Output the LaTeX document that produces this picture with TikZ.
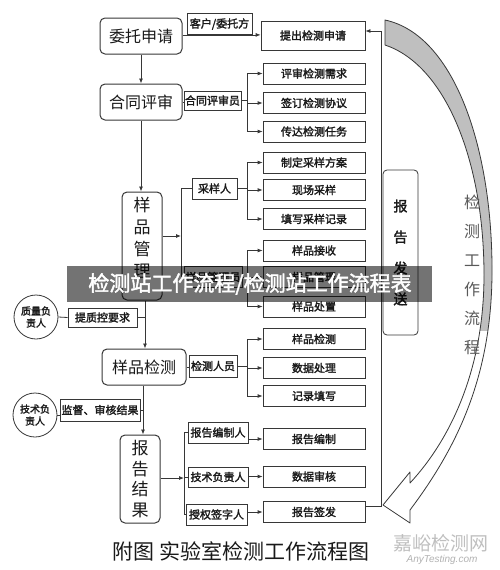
\documentclass[tikz,border=0pt]{standalone}
\usepackage{fontspec}
\setmainfont{Noto Sans CJK SC}[AutoFakeBold=2]
\newfontfamily\latf{Liberation Sans}
\usetikzlibrary{arrows.meta}
\definecolor{linec}{RGB}{55,55,55}
\definecolor{txtc}{RGB}{25,25,25}
\tikzset{
  mainbox/.style={draw=linec, line width=1pt, rounded corners=5pt, inner sep=1pt, text=txtc, font=\fontsize{16}{16}\selectfont},
  vbox/.style={mainbox, align=center},
  lblbox/.style={draw=linec, line width=0.8pt, inner sep=1pt, text=txtc, font=\fontsize{11}{11}\selectfont\bfseries},
  itembox/.style={draw=linec, line width=0.8pt, minimum width=102pt, minimum height=21pt, inner sep=1pt, text=txtc, font=\fontsize{11}{11}\selectfont\bfseries},
  circ/.style={draw=linec, line width=0.8pt, circle, minimum size=44pt, inner sep=0pt, align=center, text=txtc, font=\fontsize{10}{12}\selectfont\bfseries},
  conn/.style={draw=linec, line width=0.8pt},
  arr/.style={conn, -{Latex[length=5pt,width=4pt]}}
}
\begin{document}
\begin{tikzpicture}[x=1pt,y=-1pt]
\useasboundingbox[fill=white] (0,0) rectangle (500,570);

% big curved arrow
\def\arrowpath{(385,20) .. controls (455,35) and (493,150) .. (492,275)
  .. controls (491,380) and (455,450) .. (410,510)
  -- (410,523) -- (383,505) -- (410,472) -- (410,483)
  .. controls (450,440) and (484,370) .. (484,275)
  .. controls (484,160) and (445,65) .. (385,45) -- cycle}
\fill[white] \arrowpath;
\begin{scope}
  \clip (380,0) rectangle (500,330);
  \fill[gray!50] \arrowpath;
\end{scope}
\draw[linec, line width=0.8pt, line join=round] \arrowpath;
\node[font=\fontsize{16}{29}\selectfont, text=black!65, align=center, inner sep=0pt] (wf) at (472,274.5) {检\\测\\工\\作\\流\\程};

% main boxes
\node[mainbox, minimum width=82pt, minimum height=36pt] (wt) at (141,36) {委托申请};
\node[mainbox, minimum width=82pt, minimum height=36pt] (ht) at (141,102) {合同评审};
\node[vbox, minimum width=40pt, minimum height=108pt] (yp) at (142,246) {};
\node[font=\fontsize{17}{22}\selectfont, text=txtc, align=center, inner sep=0pt] (ypt) at (142,238) {样\\品\\管\\理};
\node[mainbox, minimum width=84pt, minimum height=36pt] (jc) at (144,367) {样品检测};
\node[vbox, minimum width=40pt, minimum height=88pt, font=\fontsize{17}{20.5}\selectfont] (bg) at (140,479) {报\\告\\结\\果};
\node[vbox, minimum width=35pt, minimum height=165pt, line width=0.8pt, rounded corners=4pt, font=\fontsize{14}{31}\selectfont\bfseries] (fs) at (400.5,252.5) {报\\告\\发\\送};

% label boxes
\node[lblbox, minimum width=65pt, minimum height=21pt] (kh) at (219.5,24) {客户/委托方};
\node[lblbox, minimum width=57pt, minimum height=19pt] (hr) at (212.5,100.5) {合同评审员};
\node[lblbox, minimum width=45pt, minimum height=21pt] (cy) at (214.5,188.5) {采样人};
\node[lblbox, minimum width=58pt, minimum height=21pt] (gly) at (213,277) {样品管理员};
\node[lblbox, minimum width=48pt, minimum height=22pt] (jr) at (213,366) {检测人员};
\node[lblbox, minimum width=60pt, minimum height=21pt] (bz) at (218,432.5) {报告编制人};
\node[lblbox, minimum width=60pt, minimum height=20pt] (jsr) at (218,477) {技术负责人};
\node[lblbox, minimum width=61pt, minimum height=21pt] (sq) at (216.5,514.5) {授权签字人};
\node[lblbox, minimum width=69pt, minimum height=19pt] (zk) at (102.5,317.5) {提质控要求};
\node[lblbox, minimum width=80pt, minimum height=22pt] (jd) at (100,410) {监督、审核结果};

% circles
\node[circ] (zl) at (36,317) {质量负\\责人};
\node[circ] (jf) at (35,415) {技术负\\责人};

% item boxes
\node[itembox, minimum width=104pt, minimum height=29pt] (req) at (313,35.5) {提出检测申请};
\node[itembox] (i1) at (314,73.5) {评审检测需求};
\node[itembox] (i2) at (314,103) {签订检测协议};
\node[itembox] (i3) at (314,131.5) {传达检测任务};
\node[itembox] (s1) at (314,162.5) {制定采样方案};
\node[itembox] (s2) at (314,190) {现场采样};
\node[itembox] (s3) at (314,219) {填写采样记录};
\node[itembox] (m1) at (314,250.5) {样品接收};
\node[itembox] (m2) at (314,277) {样品管理};
\node[itembox] (m3) at (314,306.5) {样品处置};
\node[itembox] (t1) at (314,339) {样品检测};
\node[itembox] (t2) at (314,368) {数据处理};
\node[itembox] (t3) at (314,396) {记录填写};
\node[itembox] (r1) at (314,439) {报告编制};
\node[itembox] (r2) at (314,476.5) {数据审核};
\node[itembox] (r3) at (314,512) {报告签发};

% connectors: application
\draw[arr] (wt.east |- kh.south) -- (req.west |- kh.south);
\draw[arr] (wt.south) -- (ht.north);
% contract review
\draw[conn] (ht.east) -- (ht.east -| hr.west);
\coordinate (b1) at (247,101);
\draw[conn] (hr.east) -- (hr.east -| b1);
\draw[conn] (b1 |- i1) -- (b1 |- i3);
\foreach \n in {i1,i2,i3} \draw[arr] (b1 |- \n) -- (\n.west);
\draw[arr] (ht.south) -- (ht.south |- yp.north);
% sample management
\coordinate (b2) at (181,236);
\draw[arr] (yp.east |- b2) -- (b2);
\draw[conn] (cy.west) -- (cy.west -| b2) -- (gly.west -| b2) -- (gly.west);
\coordinate (b3) at (247,188);
\draw[conn] (cy.east) -- (cy.east -| b3);
\draw[conn] (b3 |- s1) -- (b3 |- s3);
\foreach \n in {s1,s2,s3} \draw[arr] (b3 |- \n) -- (\n.west);
\draw[conn] (gly.east) -- (gly.east -| b3);
\draw[conn] (b3 |- m1) -- (b3 |- m3);
\foreach \n in {m1,m2,m3} \draw[arr] (b3 |- \n) -- (\n.west);
% quality
\coordinate (b4) at (145,317.5);
\draw[arr] (yp.south -| b4) -- (jc.north -| b4);
\draw[conn] (zl.east) -- (zk.west);
\draw[conn] (zk.east) -- (b4);
% testing
\draw[conn] (jc.east) -- (jc.east -| jr.west);
\coordinate (b5) at (247,366);
\draw[conn] (jr.east) -- (jr.east -| b5);
\draw[conn] (b5 |- t1) -- (b5 |- t3);
\foreach \n in {t1,t2,t3} \draw[arr] (b5 |- \n) -- (\n.west);
% report
\coordinate (b6) at (143,410);
\draw[arr] (jc.south -| b6) -- (bg.north -| b6);
\draw[conn] (jf.east) -- (jf.east -| jd.west);
\draw[conn] (jd.east) -- (jd.east -| b6);
\coordinate (b7) at (184,478);
\draw[arr] (bg.east |- b7) -- (b7);
\draw[conn] (b7 |- bz) -- (b7 |- sq);
\foreach \n in {bz,jsr,sq} \draw[conn] (b7 |- \n) -- (\n.west);
\draw[arr] (bz.east |- r1) -- (r1.west);
\draw[arr] (jsr.east |- r2) -- (r2.west);
\draw[arr] (sq.east |- r3) -- (r3.west);
% return loop
\coordinate (rt) at (381,31);
\coordinate (rb) at (381,506);
\draw[conn] (r3.east |- rb) -- (rb) -- (rt);
\draw[arr] (rt) -- (rt -| req.east);

% title
\node[font=\fontsize{21}{21}\selectfont, text=txtc] (title) at (241,551) {附图 实验室检测工作流程图};
% watermark
\node[font=\fontsize{19}{19}\selectfont, text=black!25] (wm) at (441,543) {嘉峪检测网};
\node[font=\latf\itshape\fontsize{10}{10}\selectfont, text=black!30] (wm2) at (442,560) {AnyTesting.com};
% banner overlay
\fill[black, fill opacity=0.55] (67,266) rectangle (432,302);
\node[font=\fontsize{21}{21}\selectfont\bfseries, text=white] (ban) at (250,284) {检测站工作流程/检测站工作流程表};
\end{tikzpicture}
\end{document}
